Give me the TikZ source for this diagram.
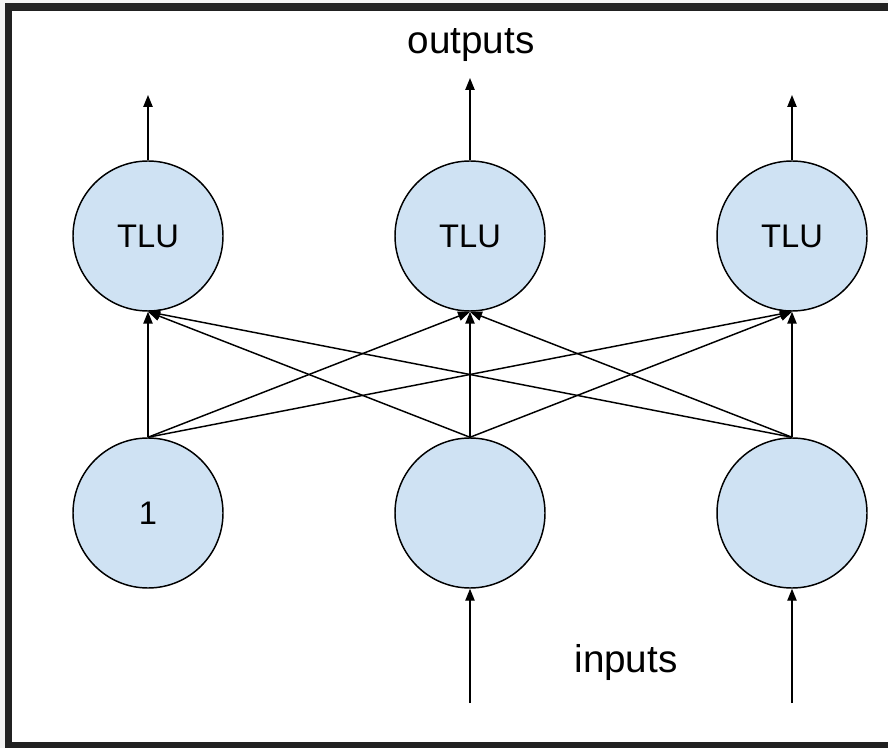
\documentclass[tikz,border=0pt]{standalone}
\usepackage{fontspec}
\setmainfont{Liberation Sans}
\usetikzlibrary{arrows.meta, positioning}
\definecolor{cellblue}{HTML}{CFE2F3}
\definecolor{framegray}{HTML}{212121}
\tikzstyle{neuron}=[draw,circle,line width=1.1pt,minimum size=112.5pt,inner sep=0pt,fill=cellblue,font=\fontsize{24.5}{28}\selectfont]
\tikzstyle{connection}=[line width=1.1pt,-{Triangle[length=9pt,width=7pt]}]
\tikzstyle{caption}=[font=\fontsize{29}{33}\selectfont]

\begin{document}
\begin{tikzpicture}[x=0.75pt,y=-0.75pt]
    \useasboundingbox (0,0) rectangle (888,748);
    \fill[gray!10] (0,0) rectangle (888,748);
    \fill[framegray] (5,3) rectangle (888,748);
    \fill[white] (12,11) rectangle (888,742);

    \node (t1)[neuron] at (148, 236) {TLU};
    \node (t2)[neuron] at (470, 236) {TLU};
    \node (t3)[neuron] at (792, 236) {TLU};

    \node (x1)[neuron] at (148, 513) {1};
    \node (x2)[neuron] at (470, 513) {};
    \node (x3)[neuron] at (792, 513) {};

    \coordinate (o1) at (148, 95);
    \coordinate (o2) at (470, 78);
    \coordinate (o3) at (792, 95);
    \coordinate (i2) at (470, 703);
    \coordinate (i3) at (792, 703);

    \node[caption] (outputs) at (471, 45) {outputs};
    \node[caption] (inputs) at (626, 662) {inputs};

    \draw[connection] (t1.north) -- (o1);
    \draw[connection] (t2.north) -- (o2);
    \draw[connection] (t3.north) -- (o3);

    \draw[connection] (i2) -- (x2.south);
    \draw[connection] (i3) -- (x3.south);

    \draw[connection] (x1.north) -- (t1.south);
    \draw[connection] (x1.north) -- (t2.south);
    \draw[connection] (x1.north) -- (t3.south);

    \draw[connection] (x2.north) -- (t1.south);
    \draw[connection] (x2.north) -- (t2.south);
    \draw[connection] (x2.north) -- (t3.south);

    \draw[connection] (x3.north) -- (t1.south);
    \draw[connection] (x3.north) -- (t2.south);
    \draw[connection] (x3.north) -- (t3.south);

\end{tikzpicture}
\end{document}
